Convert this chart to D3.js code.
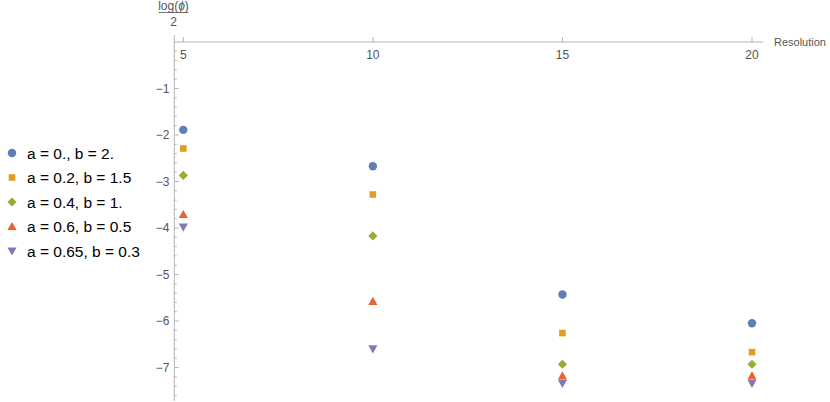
<!DOCTYPE html>
<html>
<head>
<meta charset="utf-8">
<script src="https://cdn.jsdelivr.net/npm/d3@7"></script>
<style>
  body { margin: 0; background: #fff; }
  svg { font-family: "Liberation Sans", Arial, sans-serif; }
  .tick-label { font-size: 12px; fill: #555; }
  .legend-label { font-size: 15.5px; fill: #000; }
</style>
</head>
<body>
<div id="chart"></div>
<script>
// Data
const resolutions = [5, 10, 15, 20];
const seriesNames = ["a = 0., b = 2.", "a = 0.2, b = 1.5", "a = 0.4, b = 1.", "a = 0.6, b = 0.5", "a = 0.65, b = 0.3"];
const series0 = [-1.89, -2.67, -5.43, -6.05];
const series1 = [-2.29, -3.28, -6.26, -6.67];
const series2 = [-2.87, -4.17, -6.93, -6.93];
const series3 = [-3.71, -5.58, -7.18, -7.18];
const series4 = [-3.98, -6.60, -7.34, -7.34];
const xTicks = [5, 10, 15, 20];
const yTicks = [-1, -2, -3, -4, -5, -6, -7];

const allSeries = [series0, series1, series2, series3, series4];
const colors = ["#5E81B5", "#E19C24", "#8FB032", "#EB6235", "#8778B3"];
const shapes = ["circle", "square", "diamond", "triUp", "triDown"];

const width = 830, height = 402;

const svg = d3.select("#chart")
    .append("svg")
    .attr("width", width)
    .attr("height", height);

// Scales
const xScale = d3.scaleLinear().domain([5, 20]).range([183.3, 752]);
const yScale = d3.scaleLinear().domain([0, -7]).range([42, 367.5]);

const axisColor = "#b5b5b5";
const x0 = xScale(4.763);
const y0 = yScale(0);

// Marker shapes
function markerPath(shape) {
    switch (shape) {
        case "circle": return d3.symbol(d3.symbolCircle, 56)();
        case "square": return "M-3.3,-3.3H3.3V3.3H-3.3Z";
        case "diamond": return "M0,-4.6L4.6,0L0,4.6L-4.6,0Z";
        case "triUp": return "M0,-4.6L4.6,3.6H-4.6Z";
        case "triDown": return "M0,4.6L4.6,-3.6H-4.6Z";
    }
}

// x axis (at y = 0)
svg.append("line")
    .attr("x1", x0).attr("x2", xScale(20.29))
    .attr("y1", y0).attr("y2", y0)
    .attr("stroke", axisColor);

svg.selectAll(".xtick")
    .data(xTicks)
    .enter().append("line")
    .attr("x1", d => xScale(d)).attr("x2", d => xScale(d))
    .attr("y1", y0).attr("y2", y0 - 5)
    .attr("stroke", axisColor);

svg.selectAll(".xlabel")
    .data(xTicks)
    .enter().append("text")
    .attr("class", "tick-label")
    .attr("x", d => xScale(d))
    .attr("y", y0 + 16.5)
    .attr("text-anchor", "middle")
    .text(d => d);

// y axis
svg.append("line")
    .attr("x1", x0).attr("x2", x0)
    .attr("y1", yScale(0.15)).attr("y2", yScale(-7.72))
    .attr("stroke", axisColor);

const minorTicks = d3.range(0, -7.71, -0.2).map(v => +v.toFixed(1)).filter(v => !Number.isInteger(v));
svg.selectAll(".ymin")
    .data(minorTicks)
    .enter().append("line")
    .attr("x1", x0).attr("x2", x0 + 2.5)
    .attr("y1", d => yScale(d)).attr("y2", d => yScale(d))
    .attr("stroke", axisColor);

svg.selectAll(".ytick")
    .data(yTicks)
    .enter().append("line")
    .attr("x1", x0).attr("x2", x0 + 4.5)
    .attr("y1", d => yScale(d)).attr("y2", d => yScale(d))
    .attr("stroke", axisColor);

svg.selectAll(".ylabel")
    .data(yTicks)
    .enter().append("text")
    .attr("class", "tick-label")
    .attr("x", x0 - 5)
    .attr("y", d => yScale(d) + 4)
    .attr("text-anchor", "end")
    .text(d => "\u2212" + Math.abs(d));

// Axis labels
svg.append("text")
    .attr("class", "tick-label")
    .attr("x", 774)
    .attr("y", 46)
    .style("font-size", "11px")
    .text("Resolution");

const frac = svg.append("g").attr("transform", "translate(173.5,0)");
const num = frac.append("text")
    .attr("class", "tick-label")
    .attr("y", 10)
    .attr("text-anchor", "middle");
num.append("tspan").text("log(");
num.append("tspan").style("font-style", "italic").text("\u03d5");
num.append("tspan").text(")");
frac.append("line")
    .attr("x1", -15).attr("x2", 15)
    .attr("y1", 12.5).attr("y2", 12.5)
    .attr("stroke", "#555").attr("stroke-width", 0.8);
frac.append("text")
    .attr("class", "tick-label")
    .attr("y", 26)
    .attr("text-anchor", "middle")
    .text("2");

// Points
allSeries.forEach((values, i) => {
    svg.selectAll(".pt" + i)
        .data(values)
        .enter().append("path")
        .attr("d", markerPath(shapes[i]))
        .attr("transform", (d, j) => `translate(${xScale(resolutions[j])},${yScale(d)})`)
        .attr("fill", colors[i]);
});

// Legend
const legend = svg.append("g").attr("class", "legend");
seriesNames.forEach((name, i) => {
    const ly = 153 + i * 24.5;
    legend.append("path")
        .attr("d", markerPath(shapes[i]))
        .attr("transform", `translate(12,${ly})`)
        .attr("fill", colors[i]);
    legend.append("text")
        .attr("class", "legend-label")
        .attr("x", 27)
        .attr("y", ly + 5.5)
        .text(name);
});
</script>
</body>
</html>
